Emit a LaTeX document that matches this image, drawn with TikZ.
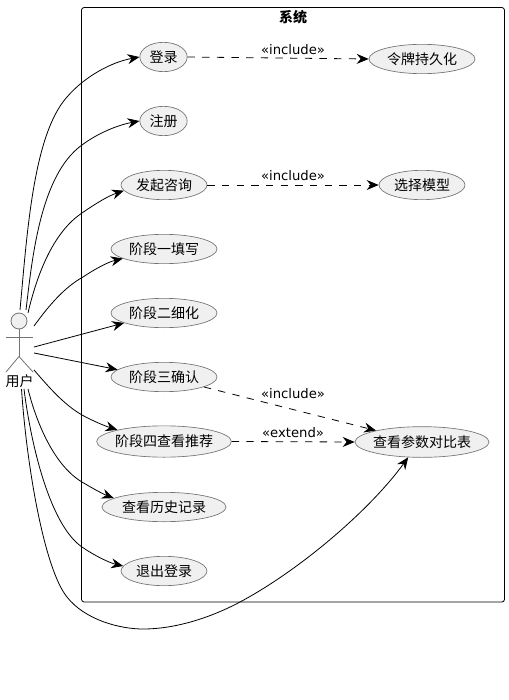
\documentclass[tikz,border=0pt]{standalone}
\usepackage{fontspec}
\setmainfont{DejaVu Sans}
\newfontfamily\cjk{Noto Sans CJK SC}
\usetikzlibrary{arrows.meta, shapes.geometric}
\tikzset{
    usecase/.style={ellipse, draw=black!55, line width=0.5pt, fill=black!6, inner xsep=-8pt, inner ysep=0pt, font=\cjk\fontsize{10.5}{12}\selectfont},
    stereo/.style={inner sep=0pt, font=\fontsize{9.9}{11}\selectfont},
    actorline/.style={draw=black!55, line width=0.6pt},
    depend/.style={->, dash pattern=on 5.5pt off 5.5pt},
}

\begin{document}
\begin{tikzpicture}[>={Stealth[length=9pt, width=7.5pt, inset=3pt]}, x=0.75pt, y=-0.75pt, line width=0.6pt]
    \useasboundingbox (0,0) rectangle (509,700);

    % System frame
    \draw[rounded corners=2pt] (81.5,7.5) rectangle (504.5,602);
    \node[inner sep=0pt, font=\cjk\bfseries\fontsize{10.5}{12}\selectfont] (system) at (293,17) {系统};

    % Actor
    \node[circle, draw=black!55, fill=black!6, line width=0.6pt, minimum size=12pt, inner sep=0pt] (head) at (19,321) {};
    \coordinate (hip) at (19,356.5);
    \coordinate (armL) at (6,337);
    \coordinate (armR) at (33,337);
    \coordinate (footL) at (6,372);
    \coordinate (footR) at (33,372);
    \draw[actorline] (head.south) -- (hip);
    \draw[actorline] (armL) -- (armR);
    \draw[actorline] (footL) -- (hip) -- (footR);
    \node[inner sep=0pt, font=\cjk\fontsize{10.5}{12}\selectfont] (user) at (19.5,381) {用户};

    % Use cases
    \node[usecase, minimum width=35.5pt, minimum height=22pt] (login) at (163.5,57) {登录};
    \node[usecase, minimum width=35.5pt, minimum height=22pt] (register) at (163.5,121) {注册};
    \node[usecase, minimum width=64.5pt, minimum height=22pt] (consult) at (164,185) {发起咨询};
    \node[usecase, minimum width=79.5pt, minimum height=22pt] (stageone) at (164,249) {阶段一填写};
    \node[usecase, minimum width=79.5pt, minimum height=22pt] (stagetwo) at (164,313) {阶段二细化};
    \node[usecase, minimum width=79.5pt, minimum height=22pt] (stagethree) at (164,377) {阶段三确认};
    \node[usecase, minimum width=101pt, minimum height=23.5pt] (stagefour) at (164,441.5) {阶段四查看推荐};
    \node[usecase, minimum width=93pt, minimum height=22pt] (history) at (164,507) {查看历史记录};
    \node[usecase, minimum width=64.5pt, minimum height=22pt] (logout) at (164,571) {退出登录};
    \node[usecase, minimum width=79.5pt, minimum height=22pt] (token) at (422,59) {令牌持久化};
    \node[usecase, minimum width=64.5pt, minimum height=22pt] (model) at (422,185) {选择模型};
    \node[usecase, minimum width=100.5pt, minimum height=23pt] (compare) at (422,442) {查看参数对比表};

    % Connector ends at the actor
    \coordinate (u1) at (20,310);
    \coordinate (u2) at (26,310);
    \coordinate (u3) at (28,313);
    \coordinate (u4) at (34,326);
    \coordinate (u5) at (34,347);
    \coordinate (u6) at (34,353);
    \coordinate (u7) at (34,370);
    \coordinate (u8) at (28,389);
    \coordinate (u9) at (24,389);
    \coordinate (u10) at (21.5,389);

    % Actor to use cases
    \draw[->] (u1) .. controls (27,235) and (33,135) .. (67,97) .. controls (85,76) and (112,62) .. (login.west);
    \draw[->] (u2) .. controls (32,260) and (40,175) .. (82,145) .. controls (98,133) and (118,125) .. (register.west);
    \draw[->] (u3) .. controls (38,270) and (55,231) .. (82,213) .. controls (95,204) and (108,196) .. (consult.188);
    \draw[->] (u4) .. controls (50,304) and (65,287) .. (83,277) .. controls (95,269) and (108,262) .. (stageone.193);
    \draw[->] (u5) -- (stagetwo.194);
    \draw[->] (u6) -- (stagethree.171);
    \draw[->] (u7) .. controls (48,386) and (63,404) .. (82,415) .. controls (93,421) and (105,426) .. (stagefour.166);
    \draw[->] (u8) .. controls (37,425) and (55,466) .. (82,482) .. controls (92,488) and (103,494) .. (history.170);
    \draw[->] (u9) .. controls (31,445) and (50,525) .. (82,547) .. controls (95,556) and (110,563) .. (logout.173);
    \draw[->] (u10) .. controls (27,470) and (45,570) .. (67,597) .. controls (85,620) and (120,629) .. (143,629) .. controls (175,629) and (210,618) .. (240,602) .. controls (300,570) and (370,510) .. (compare.228);

    % Dependencies
    \draw[depend] (login.east) -- (token.west);
    \draw[depend] (consult.east) -- (model.west);
    \draw[depend] (stagethree.346) -- (compare.166);
    \draw[depend] (stagefour.east) -- (compare.west);

    % Stereotypes
    \node[stereo] (includeone) at (293,50) {«include»};
    \node[stereo] (includetwo) at (293,176) {«include»};
    \node[stereo] (includethree) at (293,394) {«include»};
    \node[stereo] (extendone) at (293,433) {«extend»};
\end{tikzpicture}
\end{document}
